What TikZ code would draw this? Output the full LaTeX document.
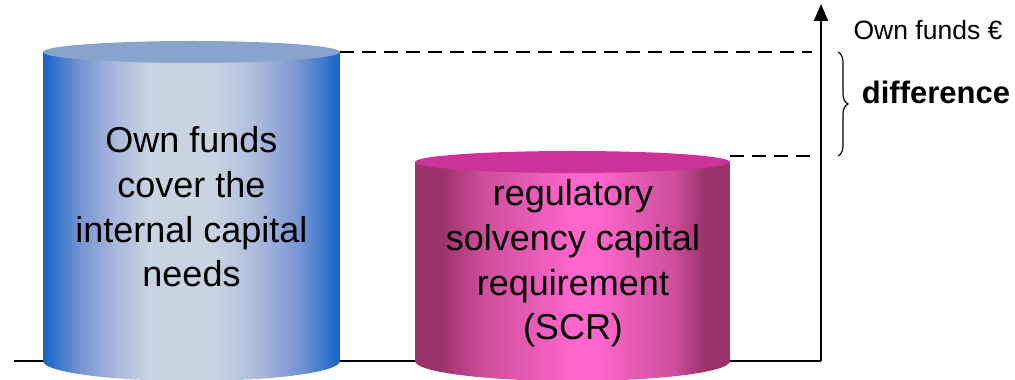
\documentclass[tikz,border=0pt]{standalone}
\usepackage{fontspec}
\setmainfont{Liberation Sans}
\usetikzlibrary{arrows.meta,decorations.pathreplacing}

\definecolor{blueEdge}{RGB}{22,100,200}
\definecolor{blueMid}{RGB}{120,150,210}
\definecolor{blueLight}{RGB}{172,186,220}
\definecolor{blueCore}{RGB}{200,212,226}
\definecolor{blueTop}{RGB}{136,164,204}
\definecolor{pinkEdge}{RGB}{155,50,105}
\definecolor{pinkMid}{RGB}{205,78,155}
\definecolor{pinkCore}{RGB}{255,102,204}
\definecolor{pinkTop}{RGB}{204,51,153}

% horizontal shadings for the barrel sides (path spans 25bp..75bp)
\pgfdeclarehorizontalshading{bluebarrel}{100bp}{%
  color(0bp)=(blueEdge); color(25bp)=(blueEdge); color(31.5bp)=(blueMid);
  color(37.5bp)=(blueLight); color(43bp)=(blueCore); color(54bp)=(blueCore);
  color(61bp)=(blueLight); color(68bp)=(blueMid); color(75bp)=(blueEdge);
  color(100bp)=(blueEdge)}
\pgfdeclarehorizontalshading{pinkbarrel}{100bp}{%
  color(0bp)=(pinkEdge); color(25bp)=(pinkEdge); color(29bp)=(pinkEdge);
  color(36bp)=(pinkMid); color(50bp)=(pinkCore); color(54bp)=(pinkCore);
  color(66bp)=(pinkMid); color(71bp)=(pinkEdge); color(75bp)=(pinkEdge);
  color(100bp)=(pinkEdge)}

\begin{document}
\begin{tikzpicture}[x=1pt,y=1pt,
  baseline/.style={line width=2pt,black},
  guide/.style={line width=1.5pt,black,dash pattern=on 14pt off 8pt},
  barreltext/.style={align=center,text=black,inner sep=0pt,
    font=\fontsize{36}{44.7}\selectfont},
  smalllabel/.style={text=black,inner sep=0pt,font=\fontsize{26.5}{30}\selectfont},
  boldlabel/.style={text=black,inner sep=0pt,font=\fontsize{31}{35}\selectfont\bfseries}
]
\useasboundingbox (0,0) rectangle (1015,380);

% axis and ground line
\coordinate (groundLeft) at (14,19);
\coordinate (origin) at (821,19);
\coordinate (axisTop) at (821,376);
\draw[baseline] (groundLeft) -- (origin);
\draw[baseline,-{Triangle[length=17pt,width=14pt]}] (origin) -- (axisTop);

% blue barrel: own funds
\shade[shading=bluebarrel] (43,328) -- (43,19)
  arc[start angle=180,end angle=360,x radius=148.5,y radius=20] -- (340,328) -- cycle;
\fill[blueTop] (191.5,328) ellipse[x radius=148.5,y radius=11];
\coordinate (blueRim) at (340,328);

% pink barrel: SCR
\shade[shading=pinkbarrel] (415,218) -- (415,19)
  arc[start angle=180,end angle=360,x radius=157.5,y radius=20] -- (730,218) -- cycle;
\fill[pinkTop] (572.5,218) ellipse[x radius=157.5,y radius=11];
\coordinate (pinkRim) at (730,224);

% guide lines to the axis
\coordinate (upperMark) at (812,328);
\coordinate (lowerMark) at (812,224);
\draw[guide] (blueRim) -- (upperMark);
\draw[guide] (pinkRim) -- (lowerMark);

% brace for the difference
\coordinate (braceTop) at (838,328);
\coordinate (braceBottom) at (838,224);
\draw[line width=1.2pt,decorate,decoration={brace,amplitude=10pt}] (braceTop) -- (braceBottom);

% texts
\node[barreltext] (ownText) at (191.5,173) {Own funds\\cover the\\internal capital\\needs};
\node[barreltext] (scrText) at (573,116.5) {regulatory\\solvency capital\\requirement\\(SCR)};
\node[smalllabel] (axisLabel) at (928,350) {Own funds €};
\node[boldlabel] (diffLabel) at (936,288) {difference};
\end{tikzpicture}
\end{document}
